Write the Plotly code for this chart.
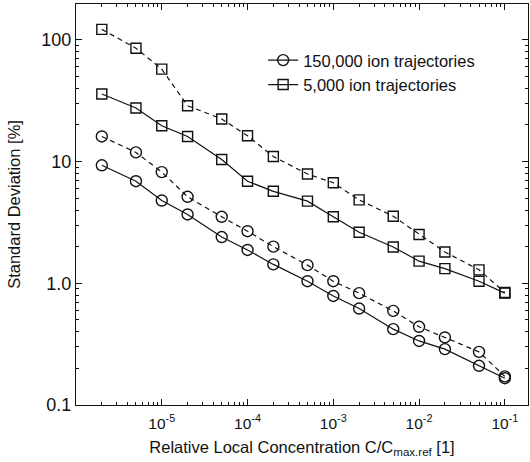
import plotly.graph_objects as go

# Data
conc = [2e-6, 5e-6, 1e-5, 2e-5, 5e-5, 1e-4, 2e-4, 5e-4, 1e-3, 2e-3, 5e-3, 1e-2, 2e-2, 5e-2, 1e-1]
circ_solid = [9.33, 6.9, 4.79, 3.68, 2.4, 1.88, 1.43, 1.04, 0.787, 0.62, 0.42, 0.336, 0.288, 0.21, 0.166]
circ_dashed = [16.1, 11.9, 8.2, 5.14, 3.52, 2.68, 2.0, 1.41, 1.04, 0.83, 0.593, 0.439, 0.359, 0.273, 0.172]
sq_solid = [35.9, 27.6, 19.7, 16.1, 10.4, 6.9, 5.7, 4.73, 3.52, 2.63, 1.99, 1.52, 1.32, 1.04, 0.83]
sq_dashed = [122, 85.5, 57.5, 28.8, 22.4, 16.3, 11.0, 7.9, 6.7, 4.85, 3.56, 2.52, 1.81, 1.29, 0.84]

x_tickvals = [1e-5, 1e-4, 1e-3, 1e-2, 1e-1]
x_ticktext = ["10<sup>-5</sup>", "10<sup>-4</sup>", "10<sup>-3</sup>", "10<sup>-2</sup>", "10<sup>-1</sup>"]
y_tickvals = [0.1, 1, 10, 100]
y_ticktext = ["0.1", "1.0", "10", "100"]

legend_circ = "150,000 ion trajectories"
legend_sq = "5,000 ion trajectories"

FONT = "Liberation Sans, Arial, Helvetica, sans-serif"
INK = "#111111"

fig = go.Figure()

def add(y, symbol, dash, name, show):
    fig.add_trace(go.Scatter(
        x=conc, y=y, mode="lines+markers", name=name, showlegend=show,
        line=dict(color=INK, width=1.2, dash=dash),
        marker=dict(symbol=symbol, size=11 if "circle" in symbol else 10,
                    color=INK, line=dict(width=1.4, color=INK)),
    ))

add(circ_solid, "circle-open", "solid", legend_circ, True)
add(sq_solid, "square-open", "solid", legend_sq, True)
add(circ_dashed, "circle-open", "5px,4px", legend_circ + " (dashed)", False)
add(sq_dashed, "square-open", "5px,4px", legend_sq + " (dashed)", False)

minor_x = [m * 10.0 ** k for k in range(-6, 0) for m in range(2, 10)]
minor_y = [m * 10.0 ** k for k in range(-1, 3) for m in range(2, 10)]

fig.update_layout(
    width=530, height=462,
    margin=dict(l=76, r=2, t=4, b=57),
    paper_bgcolor="white", plot_bgcolor="white",
    font=dict(family=FONT, size=16, color=INK),
    showlegend=True,
    legend=dict(x=0.414, y=0.903, xanchor="left", yanchor="top",
                bgcolor="rgba(0,0,0,0)", font=dict(size=16.5, family=FONT),
                tracegroupgap=0),
    xaxis=dict(
        type="log", range=[-6, -0.73],
        tickvals=x_tickvals, ticktext=x_ticktext,
        ticks="inside", ticklen=6, tickwidth=1, tickcolor=INK,
        minor=dict(tickvals=minor_x, ticks="inside", ticklen=3, tickcolor=INK),
        showline=True, linecolor=INK, linewidth=1.2, mirror="allticks",
        showgrid=False, zeroline=False,
        tickfont=dict(size=15.5), ticklabelstandoff=4,
        title=dict(text="Relative Local Concentration C/C<sub>max.ref</sub> [1]",
                   font=dict(size=16.5), standoff=10),
    ),
    yaxis=dict(
        type="log", range=[-1, 2.295],
        tickvals=y_tickvals, ticktext=y_ticktext,
        ticks="inside", ticklen=6, tickwidth=1, tickcolor=INK,
        minor=dict(tickvals=minor_y, ticks="inside", ticklen=3, tickcolor=INK),
        showline=True, linecolor=INK, linewidth=1.2, mirror="allticks",
        showgrid=False, zeroline=False,
        tickfont=dict(size=18),
        title=dict(text="Standard Deviation [%]", font=dict(size=16.5), standoff=16),
    ),
)

fig.write_html("out.html", config={"displayModeBar": False},
               post_script="document.body.style.margin='0';document.body.style.padding='0';")
